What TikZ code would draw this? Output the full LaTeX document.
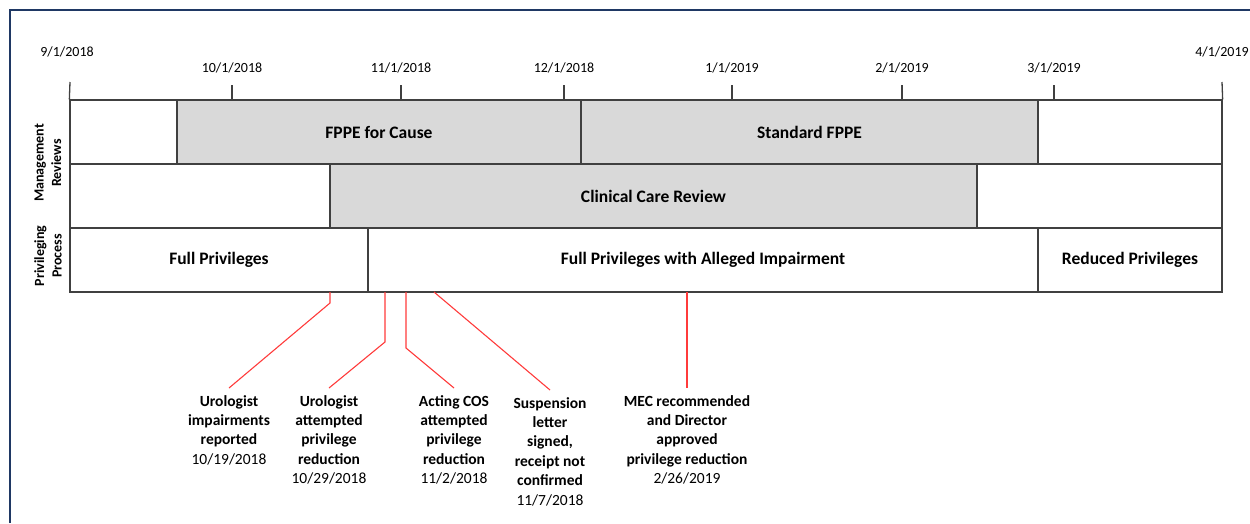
\documentclass[tikz,border=0pt]{standalone}
\usepackage{fontspec}
\setmainfont{Carlito}
\usepackage{tikz}
\usetikzlibrary{positioning, arrows.meta}

\definecolor{framenavy}{HTML}{1F3864}
\definecolor{bargrey}{HTML}{D9D9D9}
\definecolor{edgegrey}{HTML}{404040}
\definecolor{leadred}{HTML}{FF3B3B}

\begin{document}
\begin{tikzpicture}[
        x=1pt, y=-1pt,
        barbox/.style={
            rectangle,
            draw=edgegrey,
            line width=1.3pt,
            minimum height=64pt,
            inner sep=0pt,
            fill=white,
            font=\fontsize{17.5}{21}\selectfont\bfseries
        },
        greybox/.style={barbox, fill=bargrey},
        datelabel/.style={font=\fontsize{14}{16}\selectfont, inner sep=1pt},
        rowlabel/.style={rotate=90, align=center, inner sep=0pt,
            font=\fontsize{14}{17.5}\selectfont\bfseries},
        eventlabel/.style={anchor=north, align=center, inner xsep=2pt, inner ysep=7pt,
            font=\fontsize{15.5}{19.4}\selectfont\bfseries},
        tick/.style={draw=edgegrey, line width=1.3pt},
        leader/.style={draw=leadred, line width=1.1pt}
    ]

    \useasboundingbox (0,0) rectangle (1250,523);
    % frame (only top and left edges visible)
    \draw[framenavy, line width=2.2pt] (10,523) -- (10,10) -- (1250,10);

    % --- Time axis ---
    \foreach \xpos/\ypos/\dlabel in {67/52/{9/1/2018}, 232/68/{10/1/2018},
            401/68/{11/1/2018}, 564/68/{12/1/2018}, 732/68/{1/1/2019},
            902/68/{2/1/2019}, 1054/68/{3/1/2019}, 1222/52/{4/1/2019}}{
        \node[datelabel] at (\xpos,\ypos) {\dlabel};
    }
    \foreach \xpos in {232, 401, 564, 732, 902, 1054}{
        \coordinate (tt\xpos) at (\xpos,85);
        \coordinate (tb\xpos) at (\xpos,100);
        \draw[tick] (tt\xpos) -- (tb\xpos);
    }
    \coordinate (axl) at (70,82);
    \coordinate (axr) at (1222,82);

    % --- Row labels ---
    \node[rowlabel] (mgmt) at (48,163) {Management\\Reviews};
    \node[rowlabel] (priv) at (48,256) {Privileging\\Process};

    % --- Management reviews, row 1 ---
    \node[barbox, minimum width=107pt] (mgA) at (123.5,132) {};
    \node[greybox, minimum width=404pt] (fppe) at (379,132) {FPPE for Cause};
    \node[greybox, minimum width=457pt] (std) at (809.5,132) {Standard FPPE};
    \node[barbox, minimum width=184pt] (mgB) at (1130,132) {};

    % --- Management reviews, row 2 ---
    \node[barbox, minimum width=260pt] (ccA) at (200,196) {};
    \node[greybox, minimum width=647pt] (ccr) at (653.5,196) {Clinical Care Review};
    \node[barbox, minimum width=245pt] (ccB) at (1099.5,196) {};

    % --- Privileging process ---
    \node[barbox, minimum width=298pt] (full) at (219,260) {Full Privileges};
    \node[barbox, minimum width=670pt] (alleged) at (703,260) {Full Privileges with Alleged Impairment};
    \node[barbox, minimum width=184pt] (reduced) at (1130,260) {Reduced Privileges};

    \draw[tick] (axl) -- (mgA.north west);
    \draw[tick] (axr) -- (mgB.north east);

    % --- Events ---
    \node[eventlabel] (ev1) at (229,388) {Urologist\\impairments\\reported\\\mdseries 10/19/2018};
    \node[eventlabel] (ev2) at (329,388) {Urologist\\attempted\\privilege\\reduction\\\mdseries 10/29/2018};
    \node[eventlabel] (ev3) at (454,388) {Acting COS\\attempted\\privilege\\reduction\\\mdseries 11/2/2018};
    \node[eventlabel] (ev4) at (550,390) {Suspension\\letter\\signed,\\receipt not\\confirmed\\\mdseries 11/7/2018};
    \node[eventlabel] (ev5) at (687,388) {MEC recommended\\and Director\\approved\\privilege reduction\\\mdseries 2/26/2019};

    % --- Leaders ---
    \coordinate (lt1) at (330,292);
    \coordinate (lt2) at (385,292);
    \coordinate (lt3) at (406,292);
    \coordinate (lt4) at (434,292);
    \coordinate (lt5) at (687,292);
    \draw[leader] (lt1) -- ++(0,11) -- (ev1.north);
    \draw[leader] (lt2) -- ++(0,50) -- (ev2.north);
    \draw[leader] (lt3) -- ++(0,56) -- (ev3.north);
    \draw[leader] (lt4) -- (ev4.north);
    \draw[leader] (lt5) -- (ev5.north);

\end{tikzpicture}
\end{document}
